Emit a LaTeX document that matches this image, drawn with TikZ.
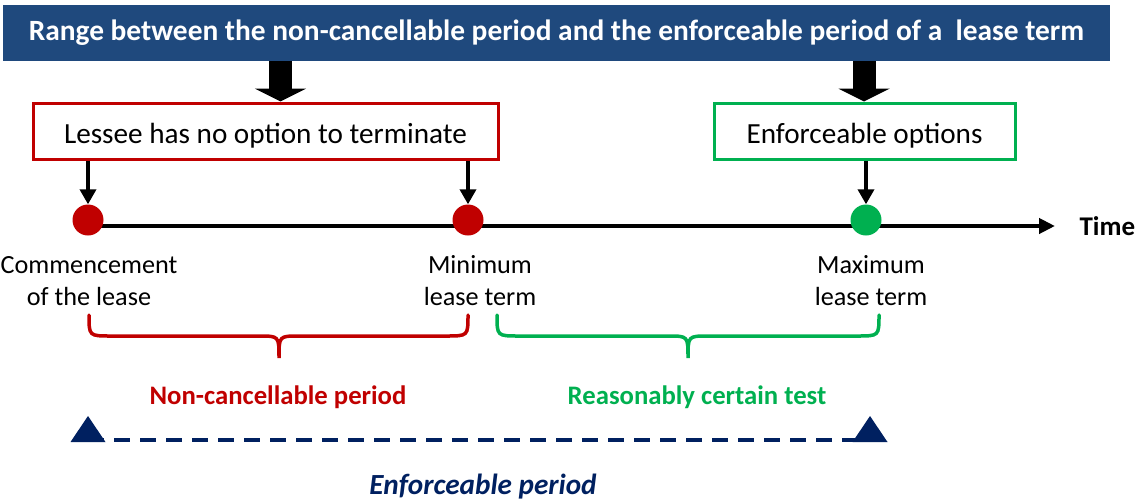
\documentclass[tikz,border=0pt]{standalone}
\usepackage{fontspec}
\setmainfont{Carlito}
\usetikzlibrary{arrows.meta}

\definecolor{barblue}{RGB}{31,73,125}
\definecolor{leasered}{RGB}{192,0,0}
\definecolor{leasegreen}{RGB}{0,176,80}
\definecolor{navy}{RGB}{0,32,96}

\tikzset{
  titlebar/.style={fill=barblue, text=white, font=\fontsize{29.4}{32}\selectfont\bfseries,
    minimum width=1107pt, minimum height=56pt, inner sep=0pt},
  termbox/.style={draw=#1, line width=3pt, fill=white, font=\fontsize{29.2}{32}\selectfont,
    minimum height=56pt, inner sep=0pt, text height=28pt, text depth=4pt},
  bigarrow/.style={line width=23pt, -{Triangle[width=51pt,length=13pt]}},
  smallarrow/.style={line width=3.5pt, -{Triangle[width=16pt,length=15pt]}},
  milestone/.style={circle, fill=#1, minimum size=31pt, inner sep=0pt},
  pointlabel/.style={align=center, font=\fontsize{26.2}{32}\selectfont},
  bracepath/.style={draw=#1, line width=3.5pt, line cap=round},
  periodlabel/.style={text=#1, font=\fontsize{26.7}{30}\selectfont\bfseries},
  marker/.style={fill=navy, draw=none},
}

\begin{document}
\begin{tikzpicture}[x=1pt, y=-1pt]
\useasboundingbox (0,0) rectangle (1141,501);

% heading bar
\node[titlebar] (title) at (556.5,33)
  {Range between the non-cancellable period and the enforceable period of a~ lease term};

% the two boxes under the heading
\node[termbox=leasered, minimum width=465pt] (nocancel) at (265.5,131)
  {Lessee has no option to terminate};
\node[termbox=leasegreen, minimum width=301pt] (options) at (864.5,131)
  {Enforceable options};

% heavy arrows from the heading
\coordinate (ka) at (280.5,0);
\coordinate (kb) at (864,0);
\draw[bigarrow] (title.south -| ka) -- (nocancel.north -| ka);
\draw[bigarrow] (title.south -| kb) -- (options.north -| kb);

% time axis
\coordinate (axisstart) at (88,226);
\coordinate (axisend) at (1055,226);
\draw[line width=4pt, -{Triangle[width=15pt,length=16pt]}] (axisstart) -- (axisend);
\node[font=\fontsize{27}{30}\selectfont\bfseries, anchor=west] (time) at (1076,226) {Time};

% milestones on the axis
\node[milestone=leasered] (start) at (88,220) {};
\node[milestone=leasered] (minterm) at (468,220) {};
\node[milestone=leasegreen] (maxterm) at (866,220) {};

\draw[smallarrow] (nocancel.south -| start) -- (start.north);
\draw[smallarrow] (nocancel.south -| minterm) -- (minterm.north);
\draw[smallarrow] (options.south -| maxterm) -- (maxterm.north);

% milestone captions
\node[pointlabel] (startlbl) at (89,281) {Commencement\\of the lease};
\node[pointlabel] (minlbl) at (480,281) {Minimum\\lease term};
\node[pointlabel] (maxlbl) at (871,281) {Maximum\\lease term};

% braces under the captions
\draw[bracepath=leasered]
  (89,315) .. controls (89,336) and (89,336) .. (111,336) -- (259,336)
  .. controls (279,336) and (279,336) .. (279,358)
  .. controls (279,336) and (279,336) .. (299,336) -- (446,336)
  .. controls (468,336) and (468,336) .. (468,315);
\draw[bracepath=leasegreen]
  (497,315) .. controls (497,336) and (497,336) .. (519,336) -- (668,336)
  .. controls (688,336) and (688,336) .. (688,358)
  .. controls (688,336) and (688,336) .. (708,336) -- (857,336)
  .. controls (879,336) and (879,336) .. (879,315);

\node[periodlabel=leasered] (ncp) at (278,397) {Non-cancellable period};
\node[periodlabel=leasegreen] (rct) at (697,397) {Reasonably certain test};

% enforceable period: dashed span between two triangular markers
\coordinate (markA) at (88,442);
\coordinate (markB) at (870,442);
\coordinate (dashA) at (88,440);
\coordinate (dashB) at (870,440);
\draw[navy, line width=4pt, dash pattern=on 16pt off 10pt] (dashA) -- (dashB);
\fill[marker] (markA) ++(-17.5,0) -- ++(17.5,-26) -- ++(17.5,26) -- cycle;
\fill[marker] (markB) ++(-17.5,0) -- ++(17.5,-26) -- ++(17.5,26) -- cycle;
\node[text=navy, font=\fontsize{29.2}{32}\selectfont\bfseries\itshape] (enf) at (483,487)
  {Enforceable period};
\end{tikzpicture}
\end{document}
